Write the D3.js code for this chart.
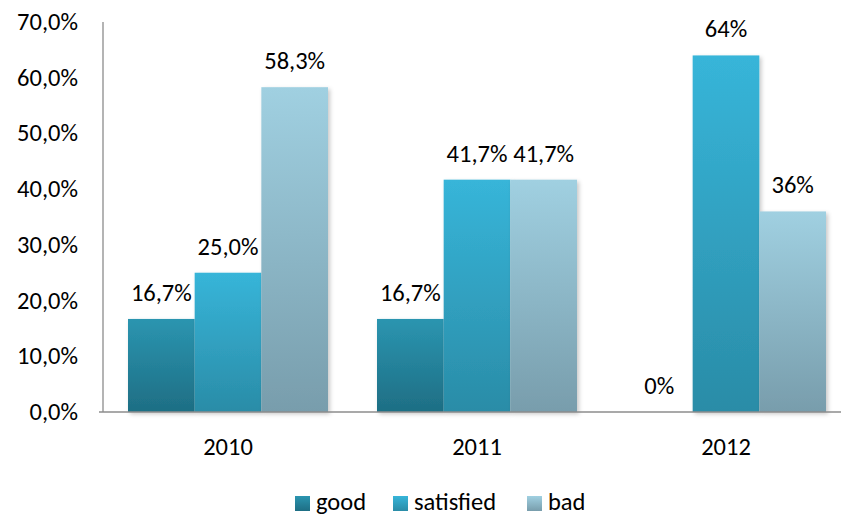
<!DOCTYPE html>
<html><head><meta charset="utf-8">
<script src="https://cdn.jsdelivr.net/npm/d3@7/dist/d3.min.js"></script>
<style>body{margin:0;background:#fff;} text{font-family:Carlito,Calibri,Lato,"Open Sans",sans-serif;fill:#000;}</style>
</head><body>
<svg id="c" width="841" height="517"></svg>
<script>
const categories = ["2010","2011","2012"];
const seriesNames = ["good","satisfied","bad"];
const good = [16.7, 16.7, 0];
const satisfied = [25.0, 41.7, 64];
const bad = [58.3, 41.7, 36];
const labelsGood = ["16,7%","16,7%","0%"];
const labelsSatisfied = ["25,0%","41,7%","64%"];
const labelsBad = ["58,3%","41,7%","36%"];
const yTicks = [0,10,20,30,40,50,60,70];
const yTickLabels = ["0,0%","10,0%","20,0%","30,0%","40,0%","50,0%","60,0%","70,0%"];

const series = [good, satisfied, bad];
const labels = [labelsGood, labelsSatisfied, labelsBad];
const grads = [["#2b95b0","#1e6e84"],["#37b5d9","#2a8ca7"],["#a0d0e1","#789dac"]];
const FS = 24.5;

const svg = d3.select("#c");
const defs = svg.append("defs");
grads.forEach((g,i)=>{
  const lg = defs.append("linearGradient").attr("id","g"+i).attr("x1",0).attr("y1",0).attr("x2",0).attr("y2",1);
  lg.append("stop").attr("offset","0%").attr("stop-color",g[0]);
  lg.append("stop").attr("offset","100%").attr("stop-color",g[1]);
});
const f = defs.append("filter").attr("id","sh").attr("x","-20%").attr("y","-20%").attr("width","150%").attr("height","150%");
f.append("feDropShadow").attr("dx",2).attr("dy",2).attr("stdDeviation",2).attr("flood-color","#000").attr("flood-opacity",0.22);

const x0 = d3.scaleBand().domain(categories).range([103.5, 850.5]).paddingInner(0).paddingOuter(0);
const groupW = 200;
const x1 = d3.scaleBand().domain(seriesNames).range([0, groupW]);
const y = d3.scaleLinear().domain([0,70]).range([412,22]);

categories.forEach((c,ci)=>{
  const gx = x0(c) + (x0.bandwidth()-groupW)/2;
  seriesNames.forEach((s,si)=>{
    const v = series[si][ci];
    if (v > 0) {
      svg.append("rect").attr("x", gx + x1(s)).attr("y", y(v))
        .attr("width", x1.bandwidth()).attr("height", y(0)-y(v))
        .attr("fill","url(#g"+si+")").attr("filter","url(#sh)");
    }
  });
});
categories.forEach((c,ci)=>{
  const gx = x0(c) + (x0.bandwidth()-groupW)/2;
  seriesNames.forEach((s,si)=>{
    const v = series[si][ci];
    svg.append("text").attr("x", gx + x1(s) + x1.bandwidth()/2).attr("y", y(v)-18)
      .attr("text-anchor","middle").attr("font-size",FS).text(labels[si][ci]);
  });
});

svg.append("line").attr("x1",103).attr("x2",103).attr("y1",y(70)).attr("y2",y(0)).attr("stroke","#8c8c8c").attr("stroke-width",1.3);
svg.append("line").attr("x1",99).attr("x2",841).attr("y1",y(0)).attr("y2",y(0)).attr("stroke","#8c8c8c").attr("stroke-width",1.3);

yTicks.forEach((t,i)=>{
  svg.append("text").attr("x",78).attr("y",y(t)+8).attr("text-anchor","end").attr("font-size",FS).text(yTickLabels[i]);
});
categories.forEach(c=>{
  svg.append("text").attr("x",x0(c)+x0.bandwidth()/2).attr("y",455).attr("text-anchor","middle").attr("font-size",FS).text(c);
});

const legX = [295, 393, 527];
seriesNames.forEach((s,i)=>{
  svg.append("rect").attr("x",legX[i]).attr("y",496).attr("width",15).attr("height",15).attr("fill","url(#g"+i+")");
  svg.append("text").attr("x",legX[i]+21).attr("y",510).attr("font-size",FS).text(s);
});
</script>
</body></html>
